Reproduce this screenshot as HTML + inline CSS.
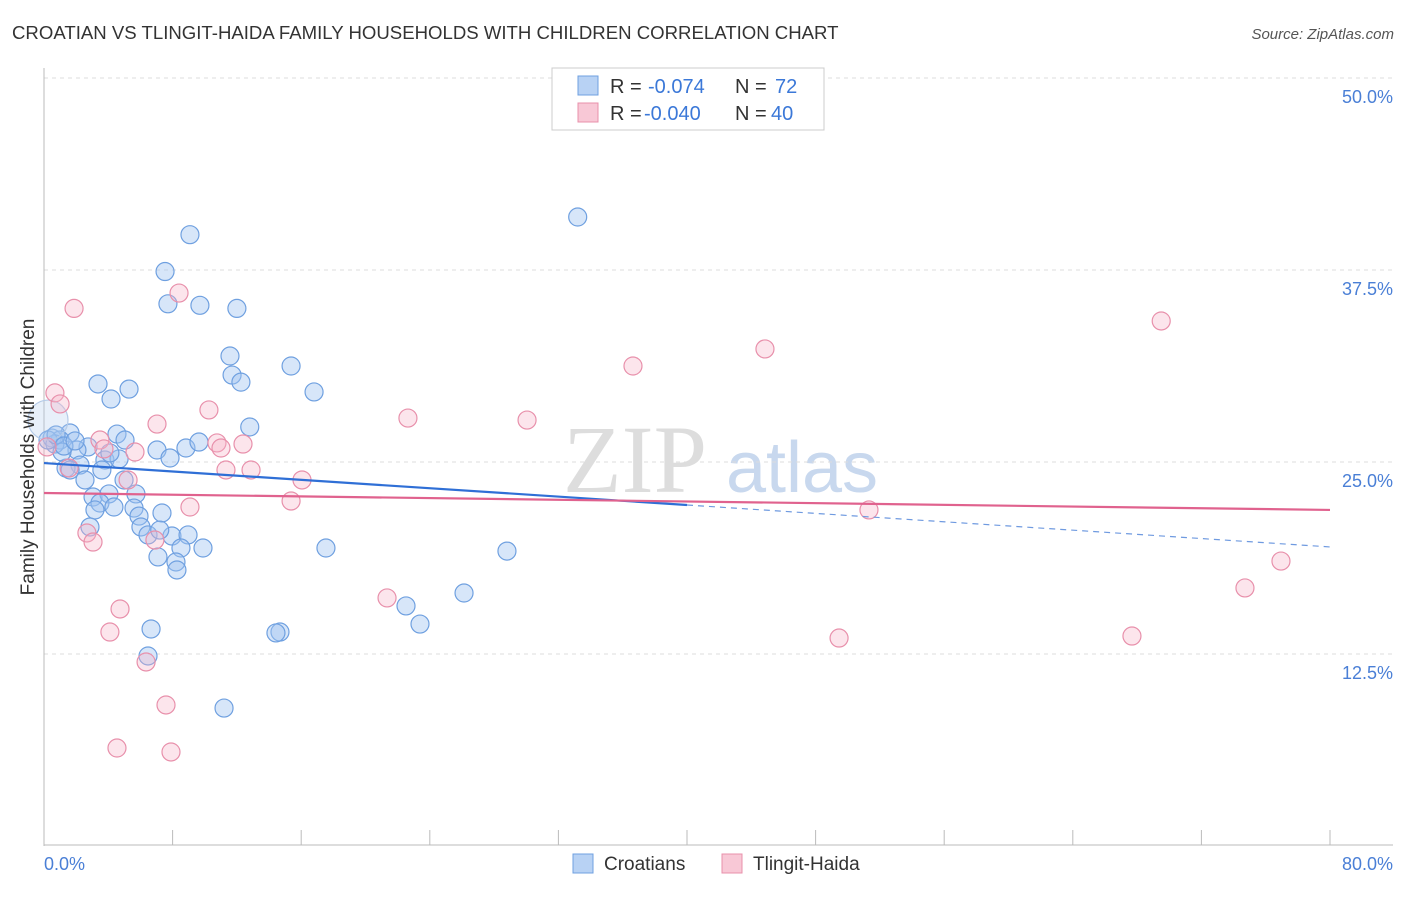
<!DOCTYPE html>
<html><head><meta charset="utf-8"><style>
body{margin:0;background:#fff;font-family:"Liberation Sans",sans-serif}
svg text{font-family:"Liberation Sans",sans-serif}
</style></head><body>
<svg id="c" width="1406" height="892">
<text x="12" y="39" font-size="18.6" fill="#333">CROATIAN VS TLINGIT-HAIDA FAMILY HOUSEHOLDS WITH CHILDREN CORRELATION CHART</text>
<text x="1394" y="39" font-size="15" fill="#555" font-style="italic" text-anchor="end">Source: ZipAtlas.com</text>
<g>
<text x="635" y="492" font-size="96" fill="#ddd" font-family="Liberation Serif" text-anchor="middle" style="font-family:'Liberation Serif',serif">ZIP</text>
<text x="802" y="492" font-size="72" fill="#c8d8ee" text-anchor="middle">atlas</text>
</g>
<g id="grid"></g>
<g id="axes"></g>
<g id="pts"></g>
<g id="trend"></g>
<text x="34" y="457" font-size="19" fill="#333" text-anchor="middle" transform="rotate(-90 34 457)">Family Households with Children</text>
<text x="44" y="870" font-size="18" fill="#4a7fd6">0.0%</text>
<text x="1393" y="870" font-size="18" fill="#4a7fd6" text-anchor="end">80.0%</text>
<g>
<rect x="552" y="68" width="272" height="62" fill="#fff" stroke="#ccc"/>
<rect x="578" y="76" width="20" height="19" fill="#b8d2f4" stroke="#6fa0e0"/>
<text x="610" y="93" font-size="20" fill="#333">R =</text>
<text x="648" y="93" font-size="20" fill="#3b78d8">-0.074</text>
<text x="735" y="93" font-size="20" fill="#333">N =</text>
<text x="775" y="93" font-size="20" fill="#3b78d8">72</text>
<rect x="578" y="103" width="20" height="19" fill="#f8c8d6" stroke="#e890ab"/>
<text x="610" y="120" font-size="20" fill="#333">R =</text>
<text x="644" y="120" font-size="20" fill="#3b78d8">-0.040</text>
<text x="735" y="120" font-size="20" fill="#333">N =</text>
<text x="771" y="120" font-size="20" fill="#3b78d8">40</text>
</g>
<g>
<rect x="573" y="854" width="20" height="19" fill="#b8d2f4" stroke="#6fa0e0"/>
<text x="604" y="870" font-size="19" fill="#333">Croatians</text>
<rect x="722" y="854" width="20" height="19" fill="#f8c8d6" stroke="#e890ab"/>
<text x="753" y="870" font-size="19" fill="#333">Tlingit-Haida</text>
</g>
</svg>
<script>
const yTicks=[12.5,25,37.5,50];
const yTickLabels=["12.5%","25.0%","37.5%","50.0%"];
const xTicks=[0,8,16,24,32,40,48,56,64,72,80];
const blueX=[33.2,9.08,7.53,7.71,9.7,12.0,11.57,15.37,11.7,12.25,3.36,5.29,16.8,4.17,12.8,4.54,1.62,5.04,0.5,1.0,2.74,7.03,8.83,9.64,7.84,3.79,4.67,2.05,2.24,1.37,2.55,4.98,5.72,3.05,4.04,3.48,4.35,3.17,5.6,7.34,5.91,6.03,2.86,6.47,7.96,8.96,9.89,8.52,17.54,28.8,7.09,8.21,8.27,22.52,26.13,23.39,14.68,14.43,6.66,6.47,11.2,0.68,1.12,0.25,1.62,4.1,0.75,1.24,1.93,3.6,7.2,0.25];
const blueY=[40.95,39.8,37.4,35.3,35.2,35.0,31.9,31.25,30.66,30.2,30.08,29.75,29.56,29.1,27.28,26.82,26.89,26.43,26.56,26.43,25.98,25.78,25.91,26.3,25.26,25.13,25.2,25.78,24.8,24.6,23.83,23.83,22.92,22.72,22.92,22.33,22.07,21.88,22.0,21.68,21.48,20.77,20.77,20.25,20.18,20.25,19.4,19.4,19.4,19.2,18.82,18.49,17.97,15.63,16.47,14.45,13.93,13.87,14.13,12.37,8.98,26.17,25.65,26.43,24.48,25.59,26.76,26.04,26.37,24.48,20.57,27.73];
const pinkX=[1.87,8.4,69.5,44.85,36.64,0.68,1.0,10.26,22.64,30.05,7.03,3.48,10.76,12.38,11.01,3.73,5.66,5.23,12.88,11.32,16.05,15.37,9.08,51.32,1.56,2.67,3.05,6.9,76.95,74.71,21.34,4.73,4.1,49.46,67.68,6.35,7.59,4.54,7.9,0.19];
const pinkY=[35.0,36.0,34.18,32.36,31.25,29.5,28.78,28.39,27.86,27.73,27.47,26.43,26.24,26.17,25.91,25.85,25.65,23.83,24.48,24.48,23.83,22.46,22.07,21.88,24.61,20.38,19.79,19.92,18.55,16.8,16.15,15.43,13.93,13.54,13.67,11.98,9.18,6.38,6.12,25.98];
const blueTrend=[24.93,19.47];
const blueSolidEnd=40;
const pinkTrend=[22.98,21.88];

const NS="http://www.w3.org/2000/svg";
const X=v=>44+v*16.075, Y=v=>846-v*15.36;
function mk(tag,attrs,parent){const e=document.createElementNS(NS,tag);for(const k in attrs)e.setAttribute(k,attrs[k]);parent.appendChild(e);return e;}
const grid=document.getElementById('grid'),axes=document.getElementById('axes'),pts=document.getElementById('pts'),tr=document.getElementById('trend');
yTicks.forEach((t,i)=>{
  const l=mk('line',{x1:44,x2:1393,y1:Y(t),y2:Y(t),stroke:'#ddd','stroke-dasharray':'4 4'},grid);
  
  
  const tx=mk('text',{x:1393,y:Y(t)+25,'font-size':18,fill:'#4a7fd6','text-anchor':'end'},grid);
  tx.textContent=yTickLabels[i];
  
  
});
const ya=mk('line',{x1:44,x2:44,y1:68,y2:846,stroke:'#bbb'},axes);


const xa=mk('line',{x1:44,x2:1393,y1:845,y2:845,stroke:'#bbb'},axes);


xTicks.forEach(t=>{
  const l=mk('line',{x1:X(t),x2:X(t),y1:830,y2:845,stroke:'#bbb'},axes);
  
  
});
blueX.forEach((x,i)=>{
  const big=i===blueX.length-1;
  const c=mk('circle',{cx:X(x),cy:Y(blueY[i]),r:big?20:9,fill:big?'rgba(180,205,240,0.3)':'rgba(160,196,240,0.42)',stroke:big?'#b5cbe8':'#6fa0e0','stroke-width':1.2},pts);
  
  
});
pinkX.forEach((x,i)=>{
  const c=mk('circle',{cx:X(x),cy:Y(pinkY[i]),r:9,fill:'rgba(246,180,200,0.35)',stroke:'#e890ab','stroke-width':1.2},pts);
  
  
});
const bAt=v=>blueTrend[0]+(blueTrend[1]-blueTrend[0])*v/80;
const b1=mk('line',{x1:X(0),y1:Y(bAt(0)),x2:X(blueSolidEnd),y2:Y(bAt(blueSolidEnd)),stroke:'#2f6fd6','stroke-width':2.2},tr);


const b2=mk('line',{x1:X(blueSolidEnd),y1:Y(bAt(blueSolidEnd)),x2:X(80),y2:Y(bAt(80)),stroke:'#6f9ae0','stroke-width':1.2,'stroke-dasharray':'6 5'},tr);


const p1=mk('line',{x1:X(0),y1:Y(pinkTrend[0]),x2:X(80),y2:Y(pinkTrend[1]),stroke:'#e0628e','stroke-width':2.2},tr);


</script>
</body></html>
